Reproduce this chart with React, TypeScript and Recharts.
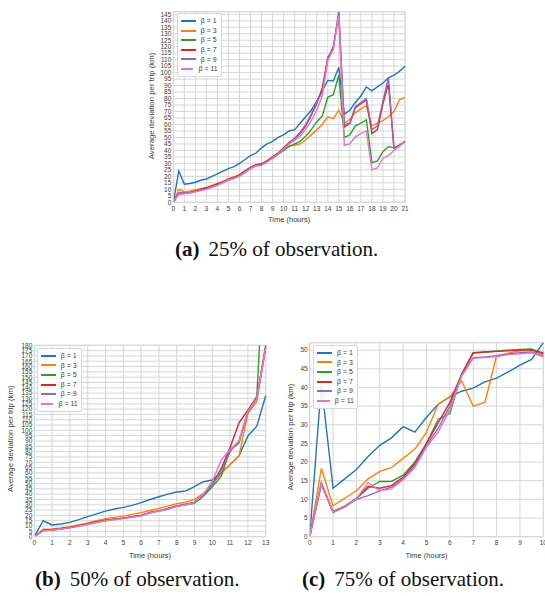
import { LineChart, Line, XAxis, YAxis, CartesianGrid, Legend, ReferenceLine } from 'recharts';

const COLORS = ['#1f77b4', '#ff7f0e', '#2ca02c', '#d62728', '#9467bd', '#e377c2'];
const BETAS = ['β = 1', 'β = 3', 'β = 5', 'β = 7', 'β = 9', 'β = 11'];
const KEYS = ['s1', 's3', 's5', 's7', 's9', 's11'];

// (a) 25% of observation
const hoursA = [0, 0.5, 1, 1.5, 2, 2.5, 3, 3.5, 4, 4.5, 5, 5.5, 6, 6.5, 7, 7.5, 8, 8.5, 9, 9.5, 10, 10.5, 11, 11.5, 12, 12.5, 13, 13.5, 14, 14.5, 15, 15.5, 16, 16.5, 17, 17.5, 18, 18.5, 19, 19.5, 20, 20.5, 21];
const b1A = [0, 24, 14, 14.5, 15.5, 17, 18, 20, 22, 24, 26, 27.5, 30, 33, 36, 38, 42, 45, 47, 50, 52, 55, 56, 61, 66, 71, 78, 86, 94, 93.5, 104, 68, 71, 77, 82, 89, 86, 89, 92, 96, 98, 101, 105];
const b3A = [0, 10, 8, 8.5, 9.5, 10.5, 11.5, 13, 14.5, 16, 18.5, 19.5, 21.5, 24.5, 27, 29, 30, 32, 35, 38, 41, 43.5, 44, 45, 48, 52, 56, 60, 66, 64.5, 71, 61, 64, 69, 72, 74.5, 59, 61, 63, 66, 70, 79, 81];
const b5A = [0, 7, 7, 7.5, 8.5, 10, 11, 12.5, 14, 15.5, 17.5, 19, 20.5, 23, 26, 28.5, 29, 31.5, 34, 37, 40, 43, 45, 47, 51, 56, 62, 66.5, 81, 83, 98, 50, 52, 59, 61, 63.5, 30.5, 32, 39, 43, 42, 44, 47];
const b7A = [0, 7, 7, 7.5, 8.5, 10, 11, 12.5, 14, 16, 17.5, 19, 21, 24, 27, 29, 29.5, 32, 35, 38, 42, 46, 49, 53, 59, 67, 76, 88, 111, 120, 145, 58, 61, 73, 76, 79, 53, 56, 76, 91.5, 41.6, 44, 47];
const b9A = [0, 7, 7, 7.5, 8.5, 9.5, 10.5, 12, 13.5, 15.5, 17, 18.5, 20.5, 23.5, 26.5, 28.5, 29, 31.5, 34.5, 37.5, 41.5, 46, 49.5, 54, 60, 68, 77, 85, 112, 118, 148, 60, 61, 74, 77, 80, 56, 59, 78, 96, 41.6, 44, 47];
const b11A = [0, 6, 6.5, 7, 8, 9, 10, 11.5, 13, 15, 17, 18.5, 20, 23, 26, 28, 28.5, 31, 34, 37, 41, 45, 48, 51, 56, 63, 71, 82, 109, 118, 144, 44, 45, 50.5, 53, 55, 25, 26.5, 34, 36, 40, 43, 47];
const xTicksA = [0, 1, 2, 3, 4, 5, 6, 7, 8, 9, 10, 11, 12, 13, 14, 15, 16, 17, 18, 19, 20, 21];
const yTicksA = [0, 5, 10, 15, 20, 25, 30, 35, 40, 45, 50, 55, 60, 65, 70, 75, 80, 85, 90, 95, 100, 105, 110, 115, 120, 125, 130, 135, 140, 145];

// (b) 50% of observation
const hoursB = [0, 0.5, 1, 1.5, 2, 2.5, 3, 3.5, 4, 4.5, 5, 5.5, 6, 6.5, 7, 7.5, 8, 8.5, 9, 9.5, 10, 10.5, 11, 11.5, 12, 12.5, 13];
const b1B = [0, 15, 11, 12, 13.5, 16, 18.8, 21.5, 24, 26, 27.6, 29.5, 32, 35, 37.6, 40, 42, 43, 47, 51.7, 53.3, 60, 68, 76, 94.7, 104, 132.6];
const b3B = [0, 7, 7.2, 8.2, 9.4, 11.2, 13, 15, 17, 18.2, 19.4, 21, 22.6, 24.6, 26.6, 28.8, 31, 32.5, 35, 40.7, 49.5, 59.5, 68, 76, 116, 127, 178];
const b5B = [0, 6, 6.5, 7.5, 8.7, 10.2, 12, 13.8, 15.5, 16.5, 17.5, 18.7, 19.8, 22.5, 24, 25.8, 28.5, 30, 31.3, 38, 47, 57, 81.5, 88, 118, 132, 290];
const b7B = [0, 6, 6.5, 7.5, 8.7, 10.2, 12, 13.8, 15.5, 16.5, 17.5, 18.7, 20, 22.8, 24.5, 26.5, 29, 30.5, 32.5, 39.5, 49.5, 64, 84, 107, 119, 131, 180];
const b9B = [0, 5.8, 6.3, 7.3, 8.5, 10, 11.8, 13.5, 15.3, 16.3, 17.3, 18.5, 19.8, 22.5, 24.3, 26.3, 28.8, 30.3, 32.3, 39.5, 49, 62, 80, 90, 117, 130, 178];
const b11B = [0, 5.5, 6.2, 7.2, 8.3, 9.8, 11.5, 13.3, 15, 16, 17, 18.3, 19.6, 22.3, 24, 26, 28.5, 30, 32, 40, 52, 72, 82, 90, 118, 130, 178];
const xTicksB = [0, 1, 2, 3, 4, 5, 6, 7, 8, 9, 10, 11, 12, 13];
const yTicksB = [0, 5, 10, 15, 20, 25, 30, 35, 40, 45, 50, 55, 60, 65, 70, 75, 80, 85, 90, 95, 100, 105, 110, 115, 120, 125, 130, 135, 140, 145, 150, 155, 160, 165, 170, 175, 180];

// (c) 75% of observation
const hoursC = [0, 0.5, 1, 1.5, 2, 2.5, 3, 3.5, 4, 4.5, 5, 5.5, 6, 6.5, 7, 7.5, 8, 8.5, 9, 9.5, 10];
const b1C = [0, 41, 13, 15.5, 18, 21.5, 24.5, 26.5, 29.5, 28, 32, 35.5, 37.5, 39, 39.8, 41.5, 42.5, 44.2, 46, 47.5, 52];
const b3C = [0, 18.3, 8.3, 10.3, 12.3, 15.5, 17.5, 18.5, 21, 23.5, 28, 35.5, 37.5, 41.8, 35, 36, 48.5, 49.2, 49.8, 50, 49];
const b5C = [0, 14.5, 6.8, 8.2, 10.3, 13, 14.8, 14.8, 16.5, 20, 25, 31.5, 33, 43.5, 49.2, 49.5, 49.7, 50, 50.2, 50.3, 49];
const b7C = [0, 14.3, 6.6, 8, 10.2, 13.5, 13, 13.7, 16, 19.5, 25, 30.5, 36, 43.5, 49.3, 49.5, 49.7, 49.8, 50, 50, 49.3];
const b9C = [0, 14, 6.5, 8, 10, 11, 12.3, 13.3, 15.5, 19, 24.5, 29, 35, 43.3, 48, 48.2, 48.5, 49, 49.3, 49.5, 48.5];
const b11C = [0, 14.5, 6.6, 8, 10.2, 14.5, 12.3, 12.8, 15.3, 18.5, 24, 28, 34, 43, 47.8, 48, 48.3, 48.8, 49, 49.3, 48.2];
const xTicksC = [0, 1, 2, 3, 4, 5, 6, 7, 8, 9, 10];
const yTicksC = [0, 5, 10, 15, 20, 25, 30, 35, 40, 45, 50];

const rows = (hours: number[], series: number[][]) =>
  hours.map((t, i) => {
    const r: any = { t };
    KEYS.forEach((k, j) => { r[k] = series[j][i]; });
    return r;
  });

const dataA = rows(hoursA, [b1A, b3A, b5A, b7A, b9A, b11A]);
const dataB = rows(hoursB, [b1B, b3B, b5B, b7B, b9B, b11B]);
const dataC = rows(hoursC, [b1C, b3C, b5C, b7C, b9C, b11C]);

const GRID = '#d6d6d6';
const TEXT = '#3a3a3a';

const YTitle = ({ cx, cy }: any) => (
  <text transform={`translate(${cx},${cy}) rotate(-90)`} textAnchor="middle" dominantBaseline="central" fontSize={7.8} fill={TEXT}>
    Average deviation per trip (km)
  </text>
);

// keep legend in beta order (recharts sorts by name otherwise)
const LegendBox = ({ payload }: any) => {
  const items = [...(payload || [])].sort((a: any, b: any) => BETAS.indexOf(a.value) - BETAS.indexOf(b.value));
  return (
    <div style={{ background: 'rgba(255,255,255,0.9)', border: '1px solid #d8d8d8', borderRadius: 2, padding: '2px 3px', width: 45, boxSizing: 'border-box' }}>
      {items.map((p: any) => (
        <div key={p.value} style={{ display: 'flex', alignItems: 'center', height: 9.6 }}>
          <span style={{ display: 'inline-block', width: 15, height: 2, background: p.color, marginRight: 5 }} />
          <span style={{ fontSize: 7, color: TEXT, lineHeight: '9.6px', whiteSpace: 'nowrap' }}>{p.value}</span>
        </div>
      ))}
    </div>
  );
};

function Panel(props: any) {
  const { left, top, width, height, margin, yw, xh, data, xMax, xTicks, yMax, yTicks, ycx, ycy, tickGap, legend } = props;
  return (
    <div style={{ position: 'absolute', left, top }}>
      <LineChart width={width} height={height} data={data} margin={margin}>
        <CartesianGrid stroke={GRID} strokeWidth={1} />
        <XAxis
          dataKey="t"
          type="number"
          domain={[0, xMax]}
          ticks={xTicks}
          interval={0}
          tickLine={false}
          tickSize={0}
          tickMargin={tickGap}
          height={xh}
          axisLine={{ stroke: GRID }}
          tick={{ fontSize: 6.5, fill: TEXT }}
          label={{ value: 'Time (hours)', position: 'insideBottom', offset: 8, fontSize: 7.5, fill: TEXT }}
        />
        <YAxis
          type="number"
          domain={[0, yMax]}
          ticks={yTicks}
          interval={0}
          allowDataOverflow
          tickLine={false}
          tickSize={0}
          tickMargin={2}
          width={yw}
          axisLine={{ stroke: GRID }}
          tick={{ fontSize: 6.5, fill: TEXT }}
          label={<YTitle cx={ycx} cy={ycy} />}
        />
        <ReferenceLine y={yMax} stroke={GRID} strokeWidth={1} />
        <ReferenceLine x={xMax} stroke={GRID} strokeWidth={1} />
        {KEYS.map((k, i) => (
          <Line key={k} type="linear" dataKey={k} name={BETAS[i]} stroke={COLORS[i]} strokeWidth={1.4} dot={false} isAnimationActive={false} />
        ))}
        <Legend layout="vertical" align="center" verticalAlign="middle" content={<LegendBox />} wrapperStyle={{ left: legend[0], top: legend[1], width: 45 }} />
      </LineChart>
    </div>
  );
}

const Caption = ({ left, top, tag, text }: any) => (
  <div style={{ position: 'absolute', left, top, fontFamily: '"Liberation Serif", "Times New Roman", serif', fontSize: 21, lineHeight: 1, color: '#111', whiteSpace: 'nowrap' }}>
    <b>{tag}</b>
    <span style={{ marginLeft: 9 }}>{text}</span>
  </div>
);

export default function App() {
  return (
    <div style={{ position: 'absolute', left: 0, top: 0, width: 545, height: 596, overflow: 'hidden', background: '#fff', fontFamily: '"Liberation Sans", Arial, sans-serif' }}>
      <Panel left={130} top={0} width={290} height={230} margin={{ top: 11.7, right: 15, left: 0, bottom: 0 }} yw={43.3} xh={27.7}
        data={dataA} xMax={21} xTicks={xTicksA} yMax={147} yTicks={yTicksA} ycx={21} ycy={106} tickGap={4.5} legend={[46.7, 13.3]} />
      <Panel left={0} top={330} width={280} height={236} margin={{ top: 15.3, right: 14.3, left: 0, bottom: 0 }} yw={34.3} xh={29.3}
        data={dataB} xMax={13} xTicks={xTicksB} yMax={180} yTicks={yTicksB} ycx={10.7} ycy={108.7} tickGap={3.5} legend={[36.7, 18]} />
      <Panel left={280} top={330} width={300} height={236} margin={{ top: 12.7, right: 36.7, left: 0, bottom: 0 }} yw={29.7} xh={29.3}
        data={dataC} xMax={10} xTicks={xTicksC} yMax={52} yTicks={yTicksC} ycx={10} ycy={107} tickGap={3.5} legend={[33, 15]} />
      <Caption left={175} top={239} tag="(a)" text="25% of observation." />
      <Caption left={35} top={569} tag="(b)" text="50% of observation." />
      <Caption left={302} top={569} tag="(c)" text="75% of observation." />
    </div>
  );
}
